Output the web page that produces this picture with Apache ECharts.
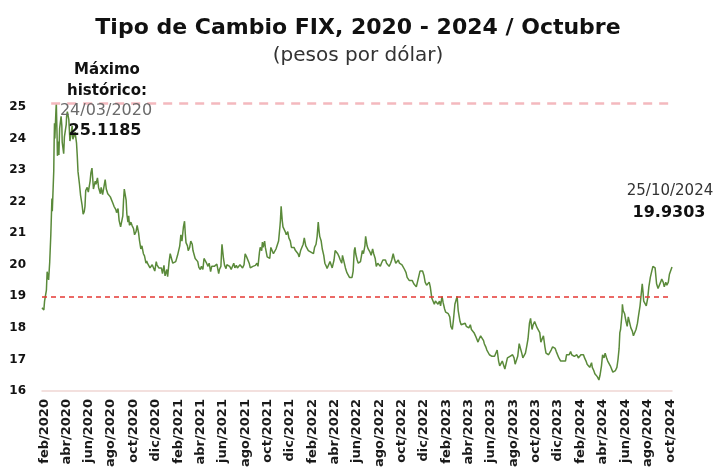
<!DOCTYPE html>
<html>
<head>
<meta charset="utf-8">
<script src="https://cdn.jsdelivr.net/npm/echarts@6/dist/echarts.min.js"></script>
<style>
  html, body { margin: 0; padding: 0; background: #fff; }
  #chart { width: 716px; height: 470px; }
</style>
</head>
<body>
<div id="chart"></div>
<script>
// tipo de cambio FIX (pesos por dolar), lecturas aproximadas por semana
const fix2020 = [
  ['2020-02-14',18.64],['2020-02-19',18.57],['2020-02-21',18.85],['2020-02-26',19.20],['2020-02-28',19.78],
  ['2020-03-03',19.52],['2020-03-06',20.09],['2020-03-09',20.95],['2020-03-12',22.10],['2020-03-13',21.70],
  ['2020-03-17',22.97],['2020-03-18',23.85],['2020-03-19',24.48],['2020-03-20',24.00],['2020-03-23',24.90],
  ['2020-03-24',25.1185],['2020-03-25',24.60],['2020-03-26',24.10],['2020-03-27',23.45],['2020-03-30',23.90],
  ['2020-03-31',23.48],['2020-04-02',24.32],['2020-04-06',24.70],['2020-04-08',24.40],['2020-04-09',23.88],
  ['2020-04-13',23.52],['2020-04-15',24.05],['2020-04-17',24.02],['2020-04-20',24.45],['2020-04-21',24.70],
  ['2020-04-23',24.85],['2020-04-27',24.60],['2020-04-29',24.15],['2020-04-30',23.92],['2020-05-04',24.20],
  ['2020-05-06',24.40],['2020-05-08',23.98],['2020-05-12',24.10],['2020-05-14',24.20],['2020-05-18',23.85],
  ['2020-05-20',23.45],['2020-05-22',22.95],['2020-05-26',22.55],['2020-05-29',22.20],['2020-06-02',21.90],
  ['2020-06-05',21.60],['2020-06-08',21.68],['2020-06-10',21.85],['2020-06-12',22.35],['2020-06-16',22.45],
  ['2020-06-19',22.30],['2020-06-24',22.65],['2020-06-26',22.90],['2020-06-29',23.06],['2020-07-01',22.75],
  ['2020-07-03',22.40],['2020-07-08',22.65],['2020-07-10',22.55],['2020-07-14',22.75],['2020-07-17',22.45],
  ['2020-07-22',22.25],['2020-07-24',22.45],['2020-07-28',22.22],['2020-07-31',22.20],['2020-08-04',22.70],
  ['2020-08-07',22.40],['2020-08-11',22.25],['2020-08-14',22.30],['2020-08-18',22.15],['2020-08-21',22.18],
  ['2020-08-25',21.95],['2020-08-28',21.85],['2020-09-02',21.75],['2020-09-04',21.65],['2020-09-08',21.78],
  ['2020-09-11',21.40],['2020-09-15',21.20],['2020-09-18',21.15],['2020-09-21',21.55],['2020-09-23',22.05],
  ['2020-09-25',22.40],['2020-09-28',22.35],['2020-09-30',22.05],['2020-10-02',21.60],['2020-10-05',21.35],
  ['2020-10-07',21.55],['2020-10-09',21.25],['2020-10-13',21.35],['2020-10-16',21.25],['2020-10-20',21.15],
  ['2020-10-23',20.95],['2020-10-27',21.05],['2020-10-30',21.25],['2020-11-03',21.00],['2020-11-05',20.80],
  ['2020-11-09',20.50],['2020-11-12',20.60],['2020-11-16',20.35],['2020-11-19',20.28],['2020-11-23',20.05],
  ['2020-11-25',20.12],['2020-11-27',20.05],['2020-12-01',20.05],['2020-12-04',19.90],['2020-12-08',19.88],
  ['2020-12-10',20.00],['2020-12-14',19.95],['2020-12-17',19.80],['2020-12-21',20.10],['2020-12-23',20.00],
  ['2020-12-28',19.90],['2020-12-31',19.95]
];
const fix2021 = [
  ['2021-01-04',19.90],['2021-01-07',19.72],['2021-01-11',19.98],['2021-01-14',19.65],['2021-01-19',19.85],
  ['2021-01-21',19.62],['2021-01-25',20.10],['2021-01-28',20.35],['2021-02-01',20.30],['2021-02-04',20.05],
  ['2021-02-09',20.00],['2021-02-12',20.10],['2021-02-17',20.30],['2021-02-19',20.25],['2021-02-23',20.60],
  ['2021-02-26',20.95],['2021-03-01',20.75],['2021-03-03',20.80],['2021-03-05',21.20],['2021-03-08',21.38],
  ['2021-03-10',21.00],['2021-03-12',20.70],['2021-03-16',20.60],['2021-03-18',20.45],['2021-03-22',20.55],
  ['2021-03-25',20.75],['2021-03-29',20.65],['2021-03-31',20.45],['2021-04-06',20.20],['2021-04-09',20.20],
  ['2021-04-13',20.10],['2021-04-16',19.92],['2021-04-20',19.85],['2021-04-23',19.95],['2021-04-27',19.85],
  ['2021-04-30',20.20],['2021-05-04',20.25],['2021-05-07',20.05],['2021-05-11',19.95],['2021-05-14',20.05],
  ['2021-05-18',19.78],['2021-05-21',19.95],['2021-05-25',19.92],['2021-05-28',19.95],['2021-06-02',19.98],
  ['2021-06-04',20.02],['2021-06-09',19.72],['2021-06-11',19.85],['2021-06-15',19.95],['2021-06-17',20.45],
  ['2021-06-18',20.65],['2021-06-22',20.20],['2021-06-25',19.98],['2021-06-29',19.88],['2021-07-01',20.00],
  ['2021-07-06',19.95],['2021-07-09',19.95],['2021-07-13',19.85],['2021-07-16',19.90],['2021-07-20',20.05],
  ['2021-07-23',19.90],['2021-07-27',19.98],['2021-07-30',19.90],['2021-08-03',19.90],['2021-08-06',20.00],
  ['2021-08-10',20.05],['2021-08-13',19.90],['2021-08-17',20.00],['2021-08-20',20.35],['2021-08-24',20.25],
  ['2021-08-27',20.20],['2021-08-31',20.05],['2021-09-03',19.90],['2021-09-07',19.85],['2021-09-10',19.95],
  ['2021-09-14',19.90],['2021-09-17',19.98],['2021-09-21',20.05],['2021-09-24',19.95],['2021-09-28',20.40],
  ['2021-09-30',20.55],['2021-10-04',20.45],['2021-10-06',20.72],['2021-10-08',20.55],['2021-10-12',20.75],
  ['2021-10-14',20.55],['2021-10-19',20.25],['2021-10-22',20.25],['2021-10-26',20.20],['2021-10-29',20.55],
  ['2021-11-03',20.55],['2021-11-05',20.35],['2021-11-09',20.30],['2021-11-12',20.50],['2021-11-16',20.55],
  ['2021-11-19',20.75],['2021-11-23',21.25],['2021-11-24',21.40],['2021-11-26',21.85],['2021-11-29',21.40],
  ['2021-12-01',21.20],['2021-12-03',21.15],['2021-12-07',21.05],['2021-12-10',20.95],['2021-12-14',21.05],
  ['2021-12-17',20.85],['2021-12-21',20.75],['2021-12-24',20.55],['2021-12-28',20.50],['2021-12-31',20.55]
];
const fix2022 = [
  ['2022-01-04',20.45],['2022-01-07',20.40],['2022-01-11',20.35],['2022-01-14',20.25],['2022-01-18',20.45],
  ['2022-01-21',20.40],['2022-01-25',20.65],['2022-01-28',20.85],['2022-02-01',20.60],['2022-02-04',20.55],
  ['2022-02-08',20.45],['2022-02-11',20.50],['2022-02-15',20.40],['2022-02-18',20.35],['2022-02-22',20.35],
  ['2022-02-25',20.55],['2022-03-01',20.65],['2022-03-04',20.90],['2022-03-07',21.35],['2022-03-09',21.10],
  ['2022-03-11',20.90],['2022-03-15',20.75],['2022-03-18',20.50],['2022-03-22',20.30],['2022-03-25',20.05],
  ['2022-03-29',19.95],['2022-03-31',19.88],['2022-04-05',19.90],['2022-04-08',20.10],['2022-04-12',20.05],
  ['2022-04-14',19.90],['2022-04-19',20.15],['2022-04-22',20.45],['2022-04-26',20.40],['2022-04-29',20.35],
  ['2022-05-03',20.25],['2022-05-06',20.15],['2022-05-10',20.05],['2022-05-12',20.30],['2022-05-17',20.05],
  ['2022-05-20',19.90],['2022-05-24',19.75],['2022-05-27',19.70],['2022-05-31',19.60],['2022-06-03',19.55],
  ['2022-06-07',19.60],['2022-06-10',19.80],['2022-06-13',20.45],['2022-06-15',20.55],['2022-06-17',20.35],
  ['2022-06-21',20.15],['2022-06-24',20.05],['2022-06-28',20.00],['2022-06-30',20.10],['2022-07-05',20.45],
  ['2022-07-08',20.35],['2022-07-12',20.60],['2022-07-14',20.90],['2022-07-18',20.60],['2022-07-21',20.50],
  ['2022-07-26',20.40],['2022-07-29',20.30],['2022-08-02',20.50],['2022-08-05',20.35],['2022-08-09',20.20],
  ['2022-08-12',19.95],['2022-08-16',20.05],['2022-08-19',20.10],['2022-08-23',19.95],['2022-08-26',20.05],
  ['2022-08-30',20.15],['2022-09-02',20.10],['2022-09-06',20.15],['2022-09-09',20.05],['2022-09-13',20.00],
  ['2022-09-16',19.95],['2022-09-20',20.05],['2022-09-23',20.15],['2022-09-27',20.35],['2022-09-30',20.20],
  ['2022-10-04',20.05],['2022-10-07',20.10],['2022-10-11',20.15],['2022-10-14',20.05],['2022-10-18',20.05],
  ['2022-10-21',20.00],['2022-10-25',19.95],['2022-10-28',19.85],['2022-11-01',19.75],['2022-11-04',19.60],
  ['2022-11-08',19.55],['2022-11-10',19.50],['2022-11-15',19.45],['2022-11-18',19.50],['2022-11-22',19.40],
  ['2022-11-25',19.35],['2022-11-29',19.30],['2022-12-02',19.25],['2022-12-06',19.65],['2022-12-09',19.80],
  ['2022-12-13',19.75],['2022-12-16',19.80],['2022-12-20',19.65],['2022-12-23',19.45],['2022-12-27',19.35],
  ['2022-12-30',19.40]
];
const fix2023 = [
  ['2023-01-03',19.45],['2023-01-06',19.30],['2023-01-10',18.95],['2023-01-13',18.90],['2023-01-17',18.75],
  ['2023-01-20',18.85],['2023-01-24',18.80],['2023-01-27',18.75],['2023-01-31',18.85],['2023-02-03',18.70],
  ['2023-02-07',19.00],['2023-02-10',18.80],['2023-02-14',18.60],['2023-02-17',18.50],['2023-02-21',18.45],
  ['2023-02-24',18.45],['2023-02-28',18.35],['2023-03-03',18.05],['2023-03-07',17.95],['2023-03-10',18.25],
  ['2023-03-14',18.75],['2023-03-17',18.80],['2023-03-20',19.00],['2023-03-23',18.55],['2023-03-28',18.20],
  ['2023-03-31',18.10],['2023-04-04',18.05],['2023-04-11',18.15],['2023-04-14',18.05],['2023-04-18',18.00],
  ['2023-04-21',18.00],['2023-04-25',18.10],['2023-04-28',17.95],['2023-05-02',18.00],['2023-05-05',17.85],
  ['2023-05-09',17.75],['2023-05-12',17.70],['2023-05-16',17.55],['2023-05-19',17.65],['2023-05-23',17.75],
  ['2023-05-26',17.80],['2023-05-31',17.60],['2023-06-02',17.50],['2023-06-06',17.40],['2023-06-09',17.30],
  ['2023-06-13',17.25],['2023-06-16',17.15],['2023-06-20',17.10],['2023-06-23',17.10],['2023-06-27',17.15],
  ['2023-06-30',17.10],['2023-07-04',17.05],['2023-07-07',17.30],['2023-07-11',16.95],['2023-07-14',16.80],
  ['2023-07-18',16.85],['2023-07-21',16.95],['2023-07-25',16.90],['2023-07-28',16.70],['2023-08-01',16.75],
  ['2023-08-04',17.05],['2023-08-08',17.10],['2023-08-11',17.10],['2023-08-15',17.05],['2023-08-18',17.15],
  ['2023-08-22',17.05],['2023-08-25',16.85],['2023-08-29',16.80],['2023-09-01',17.10],['2023-09-05',17.50],
  ['2023-09-07',17.55],['2023-09-12',17.20],['2023-09-15',17.05],['2023-09-19',17.10],['2023-09-22',17.20],
  ['2023-09-26',17.45],['2023-09-29',17.65],['2023-10-03',18.15],['2023-10-06',18.30],['2023-10-10',17.95],
  ['2023-10-13',18.10],['2023-10-17',18.20],['2023-10-20',18.25],['2023-10-24',18.00],['2023-10-27',18.05],
  ['2023-10-31',17.85],['2023-11-03',17.55],['2023-11-07',17.60],['2023-11-10',17.75],['2023-11-14',17.40],
  ['2023-11-17',17.20],['2023-11-22',17.25],['2023-11-24',17.15],['2023-11-28',17.15],['2023-12-01',17.30],
  ['2023-12-05',17.40],['2023-12-08',17.35],['2023-12-12',17.35],['2023-12-15',17.25],['2023-12-19',17.20],
  ['2023-12-22',17.05],['2023-12-27',16.95],['2023-12-29',16.90]
];
const fix2024 = [
  ['2024-01-03',16.95],['2024-01-05',17.00],['2024-01-09',16.95],['2024-01-12',17.15],['2024-01-16',17.10],
  ['2024-01-19',17.15],['2024-01-23',17.25],['2024-01-26',17.15],['2024-01-30',17.20],['2024-02-02',17.10],
  ['2024-02-07',17.10],['2024-02-09',17.15],['2024-02-13',17.05],['2024-02-16',17.05],['2024-02-20',17.15],
  ['2024-02-23',17.10],['2024-02-27',17.15],['2024-03-01',17.05],['2024-03-05',16.95],['2024-03-08',16.85],
  ['2024-03-12',16.80],['2024-03-15',16.75],['2024-03-20',16.90],['2024-03-22',16.75],['2024-03-26',16.65],
  ['2024-03-29',16.55],['2024-04-03',16.55],['2024-04-05',16.45],['2024-04-09',16.35],['2024-04-12',16.50],
  ['2024-04-16',16.80],['2024-04-19',17.15],['2024-04-23',17.05],['2024-04-26',17.20],['2024-04-30',17.05],
  ['2024-05-03',16.95],['2024-05-07',16.90],['2024-05-10',16.80],['2024-05-14',16.75],['2024-05-17',16.60],
  ['2024-05-21',16.65],['2024-05-24',16.65],['2024-05-28',16.75],['2024-05-31',17.00],['2024-06-03',17.35],
  ['2024-06-05',17.85],['2024-06-07',17.95],['2024-06-11',18.45],['2024-06-12',18.75],['2024-06-14',18.55],
  ['2024-06-18',18.45],['2024-06-21',18.25],['2024-06-25',18.05],['2024-06-28',18.35],['2024-07-02',18.30],
  ['2024-07-05',18.00],['2024-07-09',17.90],['2024-07-12',17.75],['2024-07-16',17.70],['2024-07-19',17.95],
  ['2024-07-23',18.15],['2024-07-26',18.40],['2024-07-30',18.70],['2024-08-02',19.05],['2024-08-05',19.40],
  ['2024-08-07',19.15],['2024-08-09',18.85],['2024-08-13',18.90],['2024-08-16',18.70],['2024-08-20',18.95],
  ['2024-08-23',19.30],['2024-08-27',19.60],['2024-08-30',19.75],['2024-09-03',19.95],['2024-09-05',20.00],
  ['2024-09-09',19.90],['2024-09-11',19.95],['2024-09-13',19.40],['2024-09-17',19.25],['2024-09-20',19.30],
  ['2024-09-24',19.45],['2024-09-27',19.55],['2024-10-01',19.45],['2024-10-04',19.30],['2024-10-08',19.45],
  ['2024-10-11',19.35],['2024-10-15',19.45],['2024-10-18',19.70],['2024-10-22',19.75],['2024-10-25',19.9303]
];

// etiquetas del eje x (una cada dos meses)
const xTickDates = [
  '2020-02-20','2020-04-20','2020-06-20','2020-08-20','2020-10-20','2020-12-20',
  '2021-02-20','2021-04-20','2021-06-20','2021-08-20','2021-10-20','2021-12-20',
  '2022-02-20','2022-04-20','2022-06-20','2022-08-20','2022-10-20','2022-12-20',
  '2023-02-20','2023-04-20','2023-06-20','2023-08-20','2023-10-20','2023-12-20',
  '2024-02-20','2024-04-20','2024-06-20','2024-08-20','2024-10-20'
];
const mesesAbr = ['ene','feb','mar','abr','may','jun','jul','ago','sep','oct','nov','dic'];

const fechaInicio = '2020-02-14';
const fechaFin = '2024-10-25';
const maxHistorico = 25.1185;
const nivelReferencia = 18.98;

function ts(s) { return Date.parse(s + 'T00:00:00Z'); }

const fixData = [].concat(fix2020, fix2021, fix2022, fix2023, fix2024)
  .map(function (p) { return [ts(p[0]), p[1]]; });

const chartDom = document.getElementById('chart');
const myChart = echarts.init(chartDom, null, { renderer: 'canvas' });
const FONT = 'DejaVu Sans';

const option = {
  animation: false,
  backgroundColor: '#ffffff',
  title: [
    {
      text: 'Tipo de Cambio FIX, 2020 - 2024 / Octubre',
      left: 'center', top: 12,
      textStyle: { fontFamily: FONT, fontSize: 22, fontWeight: 'bold', color: '#111' }
    },
    {
      text: '(pesos por dólar)',
      left: 'center', top: 41,
      textStyle: { fontFamily: FONT, fontSize: 20, fontWeight: 'normal', color: '#333' }
    },
    {
      text: 'Máximo\nhistórico:',
      left: 102, top: 55, textAlign: 'center',
      textStyle: { fontFamily: FONT, fontSize: 15, fontWeight: 'bold', color: '#111', lineHeight: 21 }
    },
    {
      text: '24/03/2020',
      left: 101, top: 98, textAlign: 'center',
      textStyle: { fontFamily: FONT, fontSize: 16, fontWeight: 'normal', color: '#6b6b6b' }
    },
    {
      text: '25.1185',
      left: 100, top: 118, textAlign: 'center',
      textStyle: { fontFamily: FONT, fontSize: 16, fontWeight: 'bold', color: '#111' }
    },
    {
      text: '25/10/2024',
      left: 665, top: 179, textAlign: 'center',
      textStyle: { fontFamily: FONT, fontSize: 15, fontWeight: 'normal', color: '#333' }
    },
    {
      text: '19.9303',
      left: 664, top: 200, textAlign: 'center',
      textStyle: { fontFamily: FONT, fontSize: 16, fontWeight: 'bold', color: '#111' }
    }
  ],
  grid: { left: 42, right: 44, top: 100.6, bottom: 76 },
  xAxis: {
    type: 'value',
    min: ts(fechaInicio),
    max: ts(fechaFin),
    splitLine: { show: false },
    axisLine: { show: true, lineStyle: { color: '#f0d6d4', width: 1.5 } },
    axisTick: { show: false },
    axisLabel: {
      customValues: xTickDates.map(ts),
      rotate: 90,
      margin: 8,
      fontFamily: FONT,
      fontSize: 13,
      fontWeight: 'bold',
      color: '#1a1a1a',
      formatter: function (val) {
        const d = new Date(val);
        return mesesAbr[d.getUTCMonth()] + '/' + d.getUTCFullYear();
      }
    }
  },
  yAxis: {
    type: 'value',
    min: 16,
    max: 25.2,
    interval: 1,
    splitLine: { show: false },
    axisLine: { show: false },
    axisTick: { show: false },
    axisLabel: {
      margin: 16,
      showMaxLabel: false,
      fontFamily: FONT,
      fontSize: 12,
      fontWeight: 'bold',
      color: '#111'
    }
  },
  series: [
    {
      name: 'FIX',
      type: 'line',
      data: fixData,
      showSymbol: false,
      clip: false,
      lineStyle: { color: '#5a8a3a', width: 1.5 },
      markLine: {
        silent: true,
        symbol: 'none',
        label: { show: false },
        data: [
          [
            { coord: [ts('2020-03-10'), maxHistorico], lineStyle: { color: '#f4b9be', width: 2.5, type: [9, 7] } },
            { coord: [ts(fechaFin), maxHistorico] }
          ],
          [
            { coord: [ts(fechaInicio), nivelReferencia], lineStyle: { color: '#e53935', width: 1.5, type: [5, 4] } },
            { coord: [ts(fechaFin), nivelReferencia] }
          ]
        ]
      }
    }
  ]
};

myChart.setOption(option);
</script>
</body>
</html>
